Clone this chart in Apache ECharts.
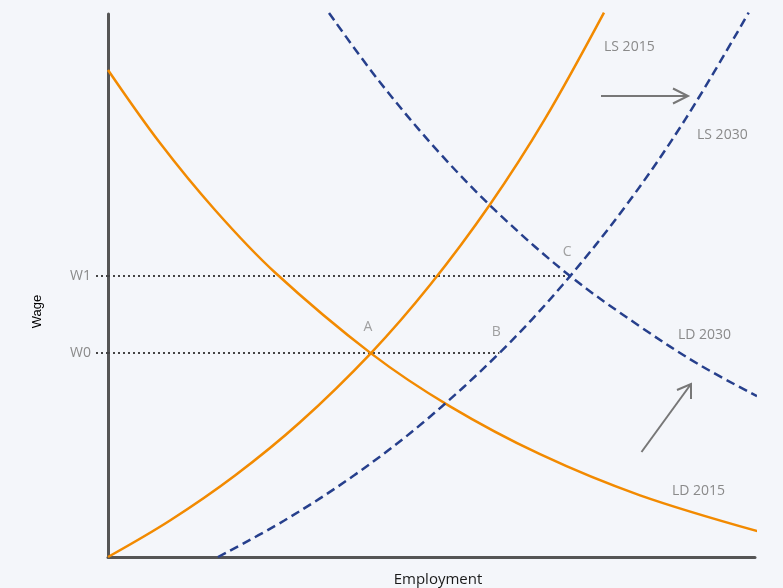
<!DOCTYPE html>
<html>
<head>
<meta charset="utf-8">
<script src="https://cdn.jsdelivr.net/npm/echarts@6/dist/echarts.min.js"></script>
<style>
html,body{margin:0;padding:0;background:#f4f6fa;}
#chart{width:783px;height:588px;}
</style>
</head>
<body>
<div id="chart"></div>
<script>
// Labour market: demand (LD) and supply (LS) curves, 2015 vs 2030
var ld2015X = [0, 8.04, 16.54, 25.81, 40.65, 52.86, 66.77, 82.23, 101.86];
var ld2015Y = [89.69, 76.23, 63.90, 52.39, 37.50, 27.74, 18.93, 11.36, 4.27];

var ls2015X = [0, 9.58, 19.63, 29.68, 40.65, 49.77, 59.04, 67.54, 76.66];
var ls2015Y = [0, 6.72, 15.01, 24.81, 37.56, 50.09, 64.92, 80.68, 100.26];

var ld2030X = [34.16, 42.04, 51.31, 60.59, 71.41, 82.23, 91.50, 100.31];
var ld2030Y = [100.18, 87.43, 74.32, 63.01, 51.75, 42.45, 35.33, 29.63];

var ls2030X = [17.0, 27.25, 38.00, 48.75, 60.49, 70.25, 80.18, 89.27, 99.03];
var ls2030Y = [0, 6.72, 15.01, 24.81, 37.56, 50.09, 64.92, 80.68, 100.26];

// wage levels and equilibrium points
var wageNames = ['W0', 'W1'];
var wageValues = [37.55, 51.75];
var pointNames = ['A', 'B', 'C'];
var pointX = [40.65, 60.49, 71.42];
var pointY = [37.55, 37.55, 51.75];

// curve labels
var curveNames = ['LS 2015', 'LS 2030', 'LD 2030', 'LD 2015'];

function zip(xs, ys) { return xs.map(function (x, i) { return [x, ys[i]]; }); }

var ORANGE = '#f28a00';
var NAVY = '#263f8c';
var GREY = '#8a8a8a';
var FONT = '14px "Open Sans"';

var chart = echarts.init(document.getElementById('chart'));

var labelDist = [19, 14, 17];
var curveLabelPos = [[604, 47], [697, 135], [678, 335.5], [672, 491]];

function curve(name, xs, ys, color, dashed) {
  return {
    name: name, type: 'line', data: zip(xs, ys), smooth: 0.35, clip: false, showSymbol: false,
    lineStyle: { color: color, width: 2.5, type: dashed ? [9, 5] : 'solid' }, z: 3
  };
}

var option = {
  backgroundColor: '#f4f6fa',
  animation: false,
  grid: { left: 108, right: 28, top: 14, bottom: 31, containLabel: false, outerBoundsMode: 'none' },
  xAxis: {
    type: 'value', min: 0, max: 100,
    name: 'Employment', nameLocation: 'middle', nameGap: 15,
    nameTextStyle: { color: '#1a1a1a', fontSize: 15, fontFamily: 'Open Sans', padding: [0, 0, 0, 13] },
    axisLine: { show: true, onZero: false, lineStyle: { color: '#555', width: 3 } },
    axisTick: { show: false }, axisLabel: { show: false }, splitLine: { show: false }
  },
  yAxis: {
    type: 'value', min: 0, max: 100,
    name: 'Wage', nameLocation: 'middle', nameGap: 64,
    nameTextStyle: { color: '#000', fontSize: 13, fontFamily: 'Liberation Sans', padding: [0, 52, 0, 0] },
    axisLine: { show: true, onZero: false, lineStyle: { color: '#555', width: 3 } },
    axisTick: { show: true, customValues: wageValues, length: 14, lineStyle: { color: '#444', width: 2, type: [2, 3] } },
    axisLabel: {
      show: true, customValues: wageValues, margin: 17,
      color: GREY, fontSize: 14, fontFamily: 'Open Sans', padding: [0, 0, 6, 0],
      formatter: function (v) {
        var i = wageValues.indexOf(v);
        return i >= 0 ? wageNames[i] : '';
      }
    },
    splitLine: { show: false }
  },
  series: [
    curve('LD 2015', ld2015X, ld2015Y, ORANGE, false),
    curve('LS 2015', ls2015X, ls2015Y, ORANGE, false),
    curve('LD 2030', ld2030X, ld2030Y, NAVY, true),
    curve('LS 2030', ls2030X, ls2030Y, NAVY, true),
    { name: 'W0 level', type: 'line', data: [[0, pointY[0]], [pointX[1], pointY[1]]], showSymbol: false,
      lineStyle: { color: '#444', width: 2, type: [2, 3] }, z: 2 },
    { name: 'W1 level', type: 'line', data: [[0, pointY[2]], [pointX[2], pointY[2]]], showSymbol: false,
      lineStyle: { color: '#444', width: 2, type: [2, 3] }, z: 2 },
    { name: 'Equilibria', type: 'scatter', symbolSize: 0,
      data: pointNames.map(function (n, i) {
        return { name: n, value: [pointX[i], pointY[i]],
          label: { distance: labelDist[i], offset: [-3, 0] } };
      }),
      label: { show: true, position: 'top', formatter: '{b}', color: GREY, fontSize: 14, fontFamily: 'Open Sans' },
      z: 4 }
  ],
  graphic: curveNames.map(function (n, i) {
    return { type: 'text', x: curveLabelPos[i][0], y: curveLabelPos[i][1],
      style: { text: n, fill: GREY, font: FONT, align: 'left', verticalAlign: 'middle' } };
  }).concat([
    { type: 'line', shape: { x1: 601, y1: 96, x2: 688, y2: 96 }, style: { stroke: '#777', lineWidth: 2 } },
    { type: 'polyline', shape: { points: [[673, 88.5], [688, 96], [673, 103.5]] }, style: { stroke: '#777', lineWidth: 2, fill: null } },
    { type: 'line', shape: { x1: 641.5, y1: 452, x2: 691, y2: 384 }, style: { stroke: '#777', lineWidth: 2 } },
    { type: 'polyline', shape: { points: [[677, 390], [691, 384], [691, 399]] }, style: { stroke: '#777', lineWidth: 2, fill: null } }
  ])
};
chart.setOption(option);
</script>
</body>
</html>
